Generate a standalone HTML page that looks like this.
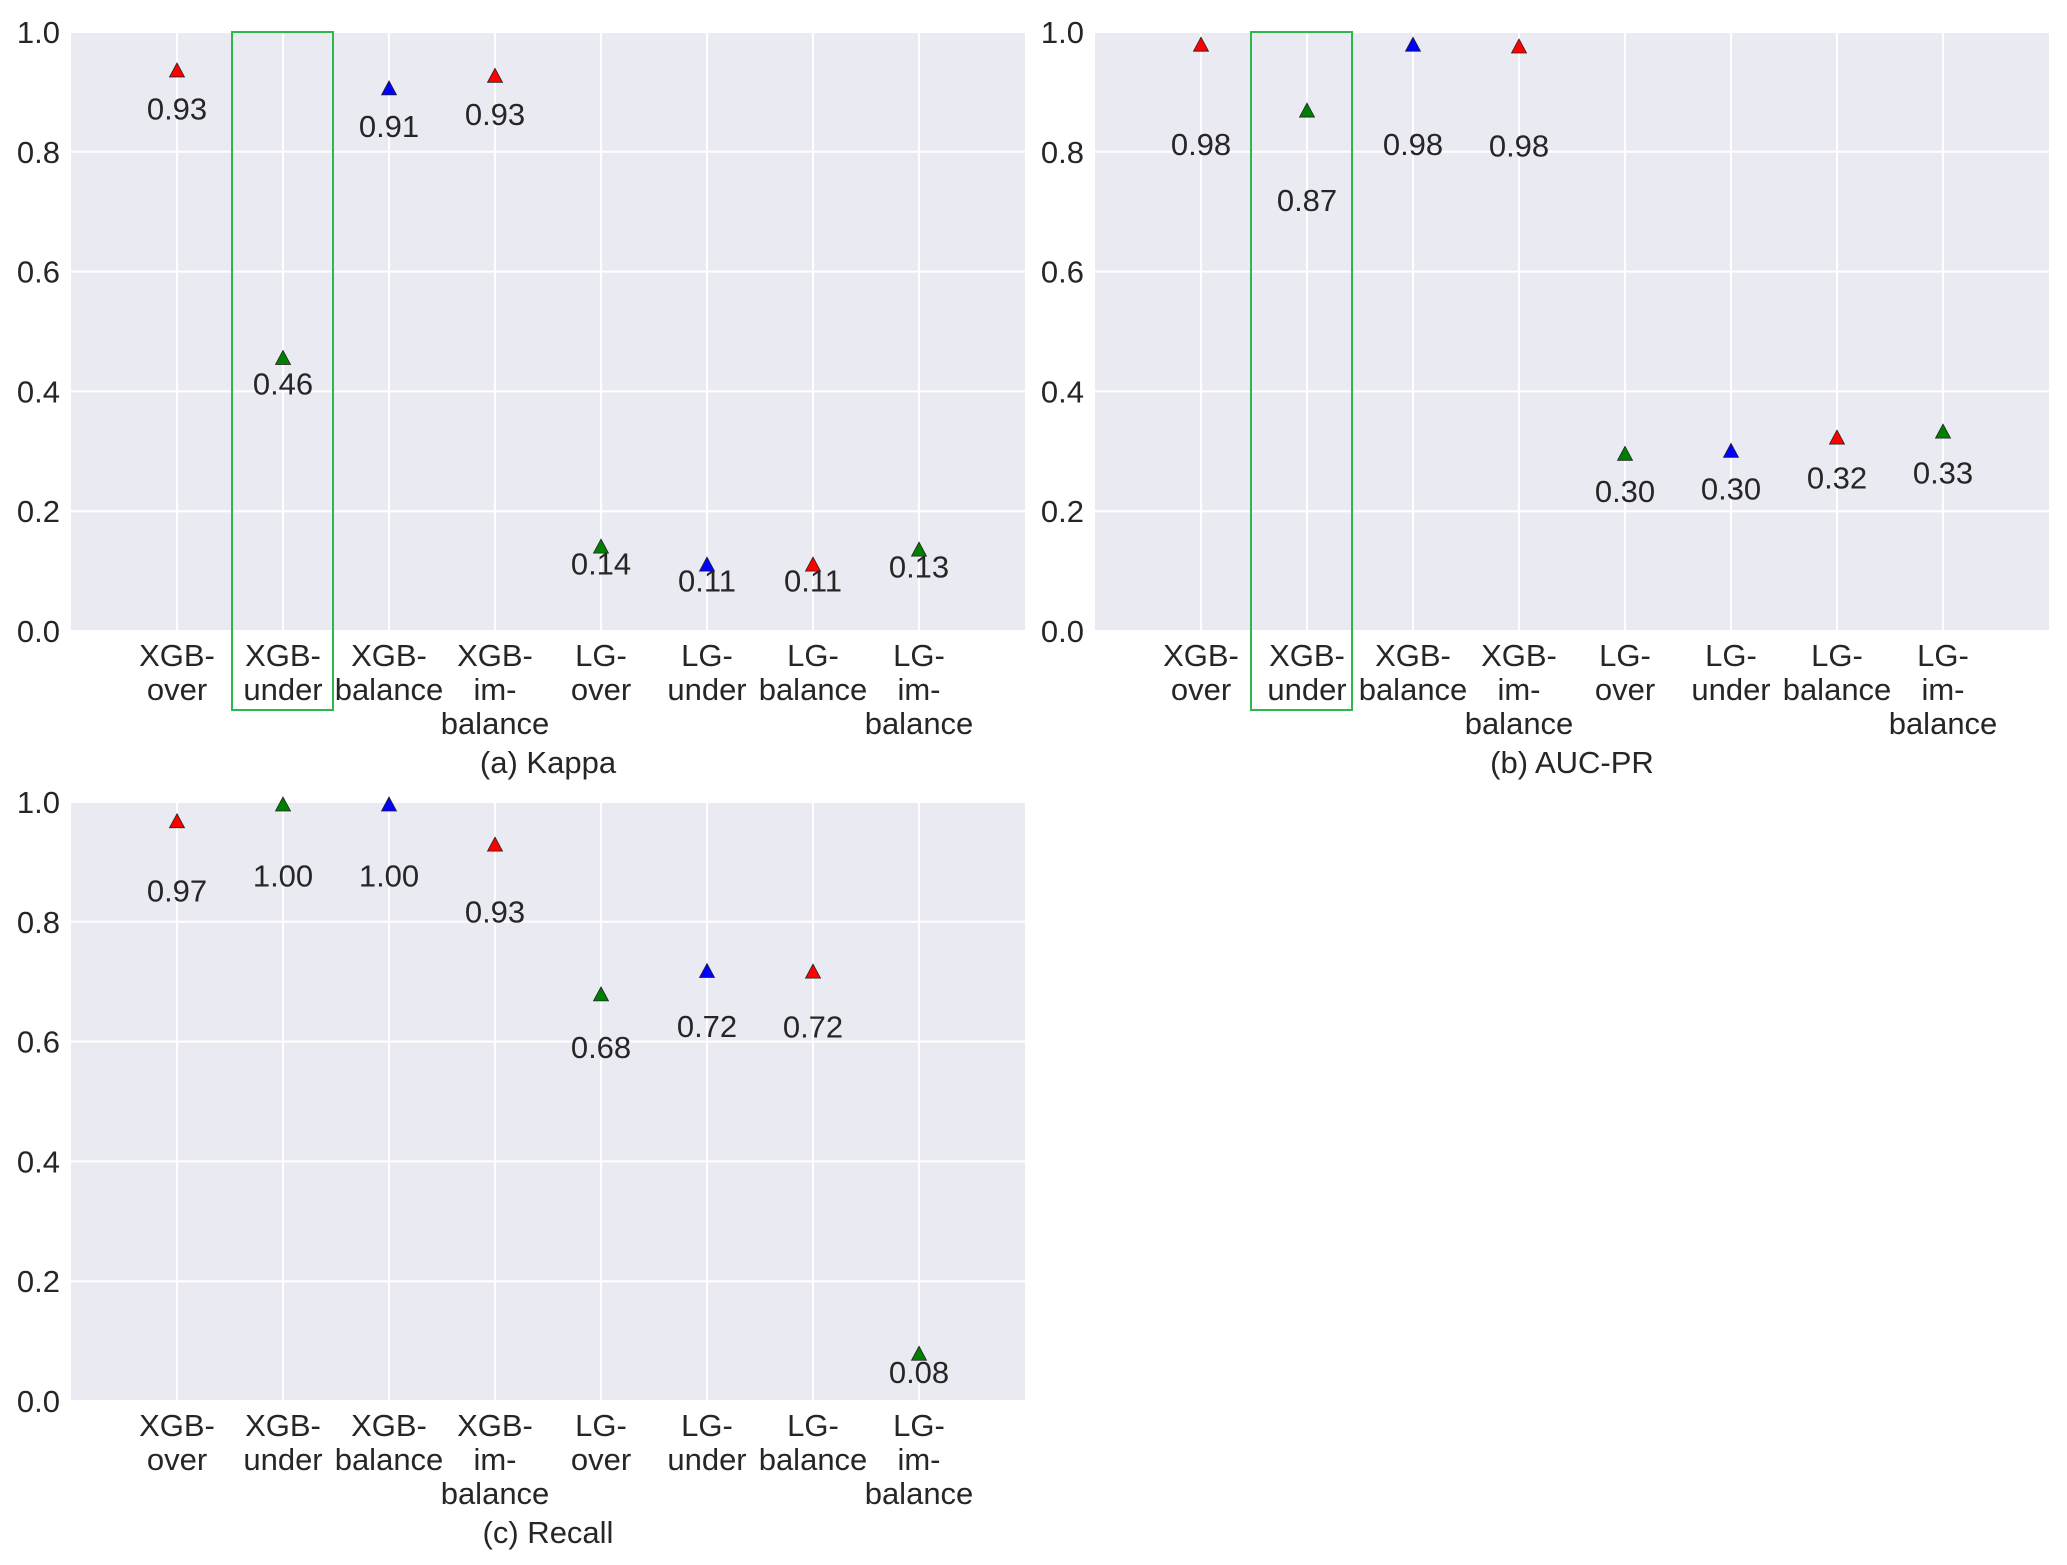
<!DOCTYPE html>
<html><head><meta charset="utf-8"><style>
html,body{margin:0;padding:0;background:#fff;}
svg{display:block;font-family:"Liberation Sans",Arial,sans-serif;}
</style></head><body>
<svg id="fig" width="2067" height="1565" viewBox="0 0 2067 1565" xmlns="http://www.w3.org/2000/svg"></svg>
<script>
const categories = ["XGB-\nover","XGB-\nunder","XGB-\nbalance","XGB-\nim-\nbalance","LG-\nover","LG-\nunder","LG-\nbalance","LG-\nim-\nbalance"];
const markerColors = ["#ff0000","#008000","#0000ff","#ff0000","#008000","#0000ff","#ff0000","#008000"];
const kappaValues = [0.935,0.455,0.905,0.926,0.14,0.11,0.11,0.135];
const kappaLabels = ["0.93","0.46","0.91","0.93","0.14","0.11","0.11","0.13"];
const aucprValues = [0.978,0.868,0.978,0.975,0.295,0.30,0.322,0.332];
const aucprLabels = ["0.98","0.87","0.98","0.98","0.30","0.30","0.32","0.33"];
const recallValues = [0.967,0.995,0.995,0.928,0.678,0.717,0.716,0.078];
const recallLabels = ["0.97","1.00","1.00","0.93","0.68","0.72","0.72","0.08"];
const yTicks = [0.0,0.2,0.4,0.6,0.8,1.0];
const yTickLabels = ["0.0","0.2","0.4","0.6","0.8","1.0"];

const NS="http://www.w3.org/2000/svg";
const svg=document.getElementById('fig');
function el(tag,attrs,parent){const e=document.createElementNS(NS,tag);for(const k in attrs)e.setAttribute(k,attrs[k]);(parent||svg).appendChild(e);return e;}

function panel(cfg){
  const g=el('g',{});
  
  
  const L=cfg.left,R=cfg.right,T=cfg.top,B=cfg.bottom;
  const xs=i=>L+(i+1)*(R-L)/9;
  const ys=v=>B-v*(B-T);
  const bg=el('rect',{x:L,y:T,width:R-L,height:B-T,fill:'#eaeaf2'},g);
  
  
  yTicks.forEach((t,i)=>{
    const ln=el('line',{x1:L,x2:R,y1:ys(t),y2:ys(t),stroke:'#fff','stroke-width':2},g);
    
    
    const tx=el('text',{x:L-11,y:ys(t)+11,'text-anchor':'end','font-size':31,fill:'#262626'},g);
    tx.textContent=yTickLabels[i];
    
    
  });
  categories.forEach((c,i)=>{
    const ln=el('line',{x1:xs(i),x2:xs(i),y1:T,y2:B,stroke:'#fff','stroke-width':2},g);
    
    
    const tx=el('text',{x:xs(i),y:B+35,'text-anchor':'middle','font-size':31,fill:'#262626'},g);
    
    
    c.split('\n').forEach((line,k)=>{
      const ts=el('tspan',{x:xs(i),dy:k===0?0:34},tx);ts.textContent=line;
    });
  });
  if(cfg.box){
    const bx=el('rect',{x:cfg.boxX,y:T,width:101,height:(B+79)-T,fill:'none',stroke:'#2db84d','stroke-width':2},g);
    
    
  }
  cfg.values.forEach((v,i)=>{
    const x=xs(i),y=ys(v);
    const tri=el('polygon',{points:`${x},${y-8} ${x-7.5},${y+6} ${x+7.5},${y+6}`,fill:markerColors[i],stroke:'#222','stroke-width':0.8},g);
    
    
    const lv=v*cfg.lf+cfg.lc;
    const tx=el('text',{x:x,y:ys(lv)+11,'text-anchor':'middle','font-size':31,fill:'#262626'},g);
    tx.textContent=cfg.labels[i];
    
    
  });
  const tt=el('text',{x:(L+R)/2,y:B+142,'text-anchor':'middle','font-size':31,fill:'#262626'},g);
  tt.textContent=cfg.title;
  
  
}
panel({name:'kappa-panel',left:71,right:1025,top:32,bottom:631,values:kappaValues,labels:kappaLabels,lf:0.955,lc:-0.021,title:'(a) Kappa',box:true,boxX:232});
panel({name:'aucpr-panel',left:1095,right:2049,top:32,bottom:631,values:aucprValues,labels:aucprLabels,lf:0.849,lc:-0.017,title:'(b) AUC-PR',box:true,boxX:1251});
panel({name:'recall-panel',left:71,right:1025,top:802,bottom:1401,values:recallValues,labels:recallLabels,lf:0.904,lc:-0.022,title:'(c) Recall',box:false});
</script>
</body></html>
